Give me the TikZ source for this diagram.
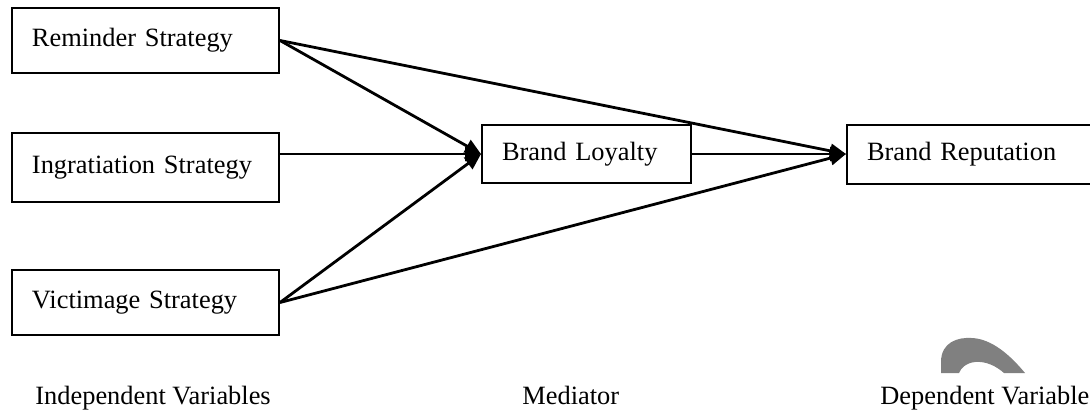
\documentclass[tikz,border=0pt]{standalone}
\usepackage{fontspec}
\setmainfont{Liberation Serif}
\usetikzlibrary{arrows.meta,positioning}

\begin{document}
\begin{tikzpicture}[x=0.5pt, y=-0.5pt, font=\fontsize{13.2}{16}\selectfont,
  var/.style={rectangle,draw=black,line width=1pt,inner xsep=10pt,align=left},
  link/.style={line width=1.4pt,-{Triangle[length=8pt,width=7pt]}}]
\useasboundingbox (0,0) rectangle (1090,413);

\node (reminder) [var, anchor=north west, text width=113.5pt, minimum height=32.5pt] at (11,7) {Reminder Strategy};
\node (ingratiation) [below=29pt of reminder, var, text width=113.5pt, minimum height=34.5pt] {Ingratiation Strategy};
\node (victimage) [below=33pt of ingratiation, var, text width=113.5pt, minimum height=32.5pt] {Victimage Strategy};

\node (loyalty) [var, anchor=west, text width=84.5pt, minimum height=29pt] at (481,154) {Brand Loyalty};
\node (reputation) [right=77pt of loyalty, var, text width=102pt, minimum height=29.5pt] {Brand Reputation};

\node (independent) [anchor=base west, inner sep=0pt] at (35,404) {Independent Variables};
\node (mediator) [anchor=base west, inner sep=0pt] at (522,404) {Mediator};
\node (dependent) [anchor=base west, inner sep=0pt] at (880,404) {Dependent Variable};

\draw [link] (reminder.east) -- (loyalty.west);
\draw [link] (ingratiation.east |- loyalty.west) -- (loyalty.west);
\draw [link] (victimage.east) -- (loyalty.west);

\draw [link] (reminder.east) -- (reputation.west);
\draw [link] (loyalty) -- (reputation);
\draw [link] (victimage.east) -- (reputation.west);

% stray grey mark above the last label
\fill [gray] (941,373) -- (941,362) .. controls (941,342) and (958,337) .. (972,338)
  .. controls (992,339) and (1010,355) .. (1025,373) -- (1004,373)
  .. controls (996,366) and (986,361) .. (975,362)
  .. controls (966,363) and (961,368) .. (959,373) -- cycle;
\end{tikzpicture}
\end{document}
